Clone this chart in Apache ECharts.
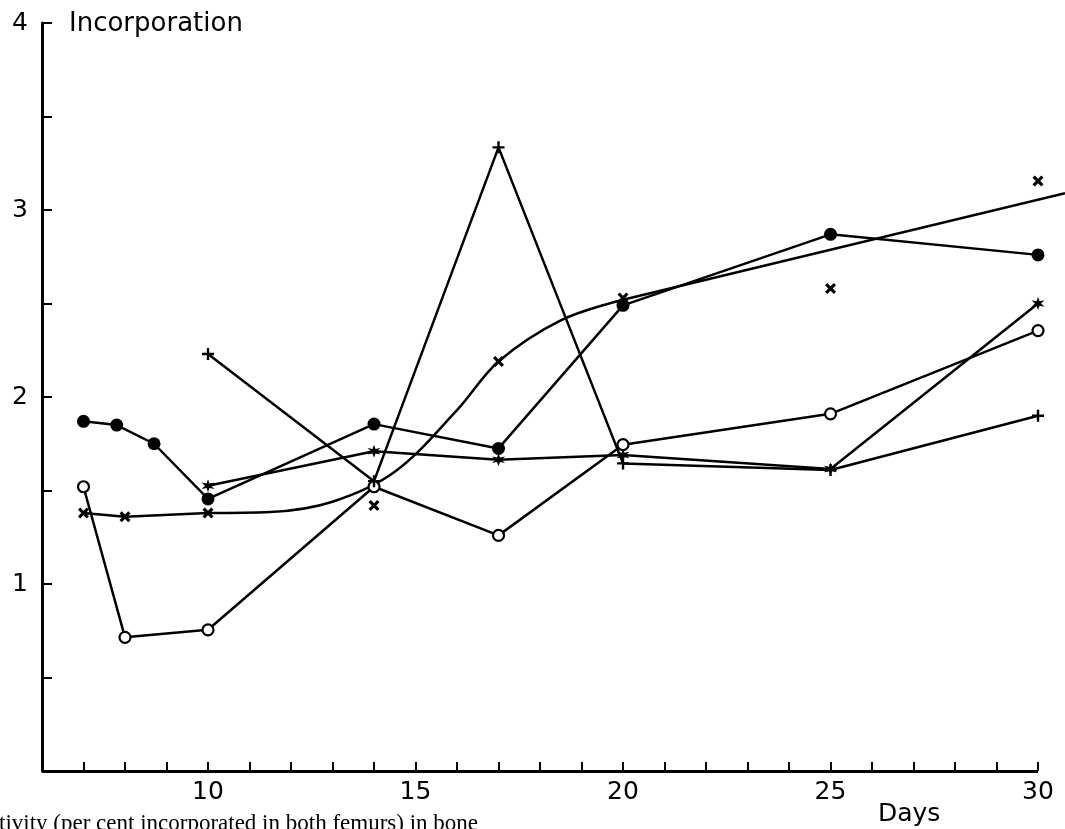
<!DOCTYPE html>
<html><head><meta charset="utf-8">
<script src="https://cdn.jsdelivr.net/npm/echarts@6/dist/echarts.min.js"></script>
<style>html,body{margin:0;padding:0;background:#fff}#c{width:1065px;height:829px}</style>
</head><body><div id="c"></div>
<script>
// ---- data (day, incorporation) ----
const filledCircle = [[7,1.87],[7.8,1.85],[8.7,1.75],[10,1.455],[14,1.855],[17,1.725],[20,2.49],[25,2.87],[30,2.76]];
const openCircle   = [[7,1.52],[8,0.715],[10,0.755],[14,1.52],[17,1.26],[20,1.745],[25,1.91],[30,2.355]];
const plusSeries   = [[10,2.23],[14,1.55],[17,3.335],[20,1.645],[25,1.61],[30,1.90]];
const starSeries   = [[10,1.525],[14,1.71],[17,1.665],[20,1.69],[25,1.615],[30,2.50]];
const crossLine    = [[7,1.38],[8,1.36],[10,1.38]];
const crossPoints  = [[14,1.42],[17,2.19],[20,2.53],[25,2.58],[30,3.155]];
const crossCurve   = [[10,1.38],[11.5,1.385],[13,1.44],[14.5,1.60],[16,1.93],[17,2.19],[18.5,2.41],[20,2.52]];
const crossTrend   = [[20,2.52],[30.65,3.09]];
const xTicks       = [7,8,9,10,11,12,13,14,15,16,17,18,19,20,21,22,23,24,25,26,27,28,29,30];
const xTickLabels  = [10,15,20,25,30];
const yTickLabels  = [1,2,3,4];
const xRange       = [6,30];
const yAxisTitle   = 'Incorporation';
const xAxisTitle   = 'Days';
const caption      = 'tivity (per cent incorporated in both femurs) in bone';

const FONT = 'DejaVu Sans';
const BLACK = '#000';
const SYM_X = 'path://M0,2 L2,0 L5,3 L8,0 L10,2 L7,5 L10,8 L8,10 L5,7 L2,10 L0,8 L3,5 Z';
const SYM_PLUS = 'path://M4,0 H6 V4 H10 V6 H6 V10 H4 V6 H0 V4 H4 Z';
const SYM_STAR = 'path://M5,0 L6,3.27 L9.33,2.5 L7,5 L9.33,7.5 L6,6.73 L5,10 L4,6.73 L0.67,7.5 L3,5 L0.67,2.5 L4,3.27 Z';

const LW = 2.5;
const lineBase = {type:'line', lineStyle:{color:BLACK, width:LW}, itemStyle:{color:BLACK}, z:3, animation:false};

const chart = echarts.init(document.getElementById('c'), null, {renderer:'canvas'});
chart.setOption({
  backgroundColor:'#fff',
  animation:false,
  grid:{left:42, right:0, top:23, bottom:58, containLabel:false, outerBoundsMode:'none'},
  xAxis:{
    type:'value', min:6, max:30.65,
    splitLine:{show:false},
    axisLine:{show:false},
    axisTick:{show:true, inside:true, length:9, customValues:xTicks, lineStyle:{color:BLACK, width:2}},
    axisLabel:{color:BLACK, fontFamily:FONT, fontSize:25, margin:9, customValues:xTickLabels}
  },
  yAxis:{
    type:'value', min:0, max:4, interval:0.5,
    splitLine:{show:false},
    axisLine:{show:true, lineStyle:{color:BLACK, width:3}},
    axisTick:{show:true, inside:true, length:10, lineStyle:{color:BLACK, width:2}},
    axisLabel:{color:BLACK, fontFamily:FONT, fontSize:25, margin:14,
      formatter:v => yTickLabels.includes(v) ? String(v) : ''}
  },
  graphic:[
    {type:'text', left:69, top:11, style:{text:yAxisTitle, font:'26px "DejaVu Sans"', fill:BLACK}},
    {type:'text', left:878, top:802, style:{text:xAxisTitle, font:'25px "DejaVu Sans"', fill:BLACK}},
    {type:'text', left:-1, top:812, style:{text:caption, font:'23px "Liberation Serif"', fill:BLACK}}
  ],
  series:[
    // x axis line drawn in data coordinates (day 6 → day 30 at value 0)
    {type:'line', data:[], symbol:'none', silent:true, animation:false,
      markLine:{symbol:['none','none'], silent:true, animation:false, label:{show:false},
        lineStyle:{color:BLACK, width:3, type:'solid'},
        data:[[{coord:[xRange[0],0]},{coord:[xRange[1],0]}]]}},
    Object.assign({}, lineBase, {name:'filled', data:filledCircle, symbol:'circle', symbolSize:13}),
    Object.assign({}, lineBase, {name:'open', data:openCircle, symbol:'circle', symbolSize:11,
      itemStyle:{color:'#fff', borderColor:BLACK, borderWidth:2.2}}),
    Object.assign({}, lineBase, {name:'plus', data:plusSeries, symbol:SYM_PLUS, symbolSize:12}),
    Object.assign({}, lineBase, {name:'star', data:starSeries, symbol:SYM_STAR, symbolSize:13}),
    Object.assign({}, lineBase, {name:'crossLine', data:crossLine, symbol:SYM_X, symbolSize:11}),
    Object.assign({}, lineBase, {name:'crossCurve', data:crossCurve, symbol:'none', smooth:0.35}),
    Object.assign({}, lineBase, {name:'crossTrend', data:crossTrend, symbol:'none'}),
    {type:'scatter', name:'crossPts', data:crossPoints, symbol:SYM_X, symbolSize:11,
      itemStyle:{color:BLACK, opacity:1}, z:4, animation:false}
  ]
});
</script></body></html>
